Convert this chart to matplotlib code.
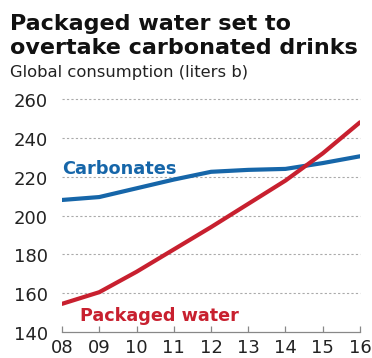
import matplotlib
matplotlib.use("Agg")
import matplotlib.pyplot as plt
from matplotlib.transforms import offset_copy

years = [8, 9, 10, 11, 12, 13, 14, 15, 16]
year_labels = ["08", "09", "10", "11", "12", "13", "14", "15", "16"]
carbonates = [208, 209.5, 214, 218.5, 222.5, 223.5, 224, 227, 230.5]
packaged_water = [154.5, 160.5, 171, 182.5, 194, 206, 218, 232, 248]
y_ticks = [140, 160, 180, 200, 220, 240, 260]
title_lines = ["Packaged water set to", "overtake carbonated drinks"]

blue = "#1666a9"
red = "#c8202f"

plt.rcParams['font.family'] = ['DejaVu Sans']

fig = plt.figure(figsize=(3.72, 3.58), dpi=100)
ax = fig.add_axes([62/372, 1-332/358, (360-62)/372, (332-99)/358])

ax.plot(years, carbonates, color=blue, lw=3, solid_capstyle='round', zorder=3)
ax.plot(years, packaged_water, color=red, lw=3, solid_capstyle='round', zorder=4)

ax.set_xlim(8, 16)
ax.set_ylim(140, 260)
ax.set_yticks(y_ticks)
ax.set_yticklabels([])
ax.set_xticks(years)
ax.set_xticklabels(year_labels)

ylab_tr = offset_copy(ax.get_yaxis_transform(), fig=fig, x=-14, y=-3, units='dots')
for v in y_ticks:
    ax.text(0, v, str(v), transform=ylab_tr, ha="right", va="center",
            fontsize=13, color="#222222")

for v in y_ticks[1:]:
    ax.axhline(v, color="#aaaaaa", lw=0.8, ls=(0, (2, 2)), zorder=1, clip_on=False)

for s in ["top", "right", "left"]:
    ax.spines[s].set_visible(False)
ax.spines["bottom"].set_color("#888888")
ax.spines["bottom"].set_linewidth(0.9)
ax.tick_params(axis="x", direction="in", length=4.3, color="#888888", width=0.9,
               labelsize=13, pad=5, labelcolor="#222222")
ax.tick_params(axis="y", length=0)

ax.text(8.0, 221.5, "Carbonates", color=blue, fontsize=12.8, fontweight="bold",
        ha="left", va="baseline")
ax.text(8.48, 145.5, "Packaged water", color=red, fontsize=12.7, fontweight="bold",
        ha="left", va="baseline")

for i, line in enumerate(title_lines):
    fig.text(10/372, 1-(30 + 24.5*i)/358, line, fontsize=16, fontweight="bold",
             ha="left", va="baseline", color="#111111")
fig.text(10/372, 1-77/358, "Global consumption (liters b)", fontsize=11.8,
         ha="left", va="baseline", color="#222222")

fig.savefig("out.png", dpi=100)
